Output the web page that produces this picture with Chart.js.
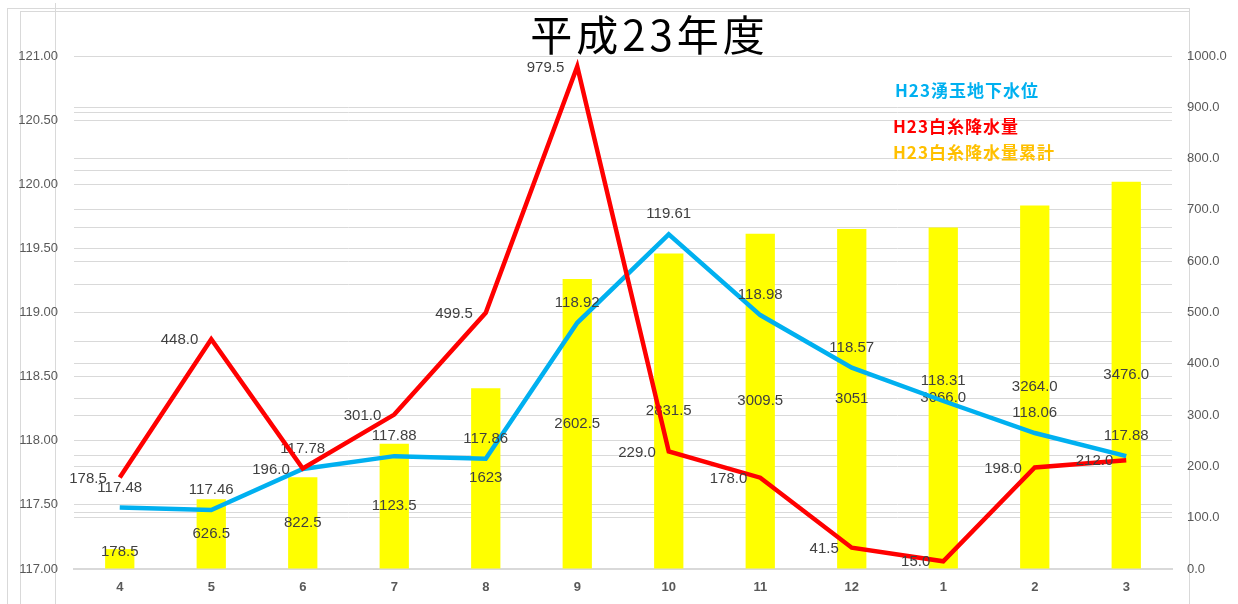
<!DOCTYPE html>
<html>
<head>
<meta charset="utf-8">
<script src="https://cdn.jsdelivr.net/npm/chart.js"></script>
<style>
  body { margin: 0; background: #fff; }
  #wrap { position: relative; width: 1238px; height: 604px; overflow: hidden; }
  .ln { position: absolute; border: 1px solid #D9D9D9; }
  #title {
    position: absolute; left: 527px; top: 6px; width: 245px; text-align: center;
    font-family: "Noto Sans CJK JP", sans-serif; font-size: 42px; line-height: 54px;
    letter-spacing: 4px; color: #000; white-space: nowrap;
  }
  canvas { position: absolute; left: 0; top: 0; }
</style>
</head>
<body>
<div id="wrap">
  <div class="ln" style="left:7px;top:8px;width:1181px;height:620px;"></div>
  <div class="ln" style="left:20px;top:11px;width:1168px;height:620px;border-right:none;"></div>
  <div class="ln" style="left:55px;top:3px;width:0;height:620px;border-left:none;border-top:none;border-bottom:none;"></div>
  <canvas id="myChart" width="1238" height="604"></canvas>
  <div id="title">平成23年度</div>
</div>
<script>
// months (fiscal year H23)
const months = ["4", "5", "6", "7", "8", "9", "10", "11", "12", "1", "2", "3"];
// 湧玉地下水位
const waterLevel = [117.48, 117.46, 117.78, 117.88, 117.86, 118.92, 119.61, 118.98, 118.57, 118.31, 118.06, 117.88];
// 白糸降水量
const rainfall = [178.5, 448.0, 196.0, 301.0, 499.5, 979.5, 229.0, 178.0, 41.5, 15.0, 198.0, 212.0];
// 白糸降水量累計
const rainCum = [178.5, 626.5, 822.5, 1123.5, 1623, 2602.5, 2831.5, 3009.5, 3051, 3066.0, 3264.0, 3476.0];
const rainCumLabels = ["178.5", "626.5", "822.5", "1123.5", "1623", "2602.5", "2831.5", "3009.5", "3051", "3066.0", "3264.0", "3476.0"];

const tickColor = "#595959";
const gridColor = "#D9D9D9";
const labelFont = '15px "Liberation Sans", Arial, sans-serif';

// value labels, drawn right after each dataset
const valueLabels = {
  id: "valueLabels",
  afterDatasetDraw(chart, args) {
    const ctx = chart.ctx;
    const ds = chart.data.datasets[args.index];
    const meta = args.meta;
    ctx.save();
    ctx.font = labelFont;
    ctx.fillStyle = "#404040";
    meta.data.forEach((el, i) => {
      if (ds.type === "bar") {
        const mid = (el.y + el.base) / 2;
        ctx.textAlign = "center";
        ctx.textBaseline = "middle";
        ctx.fillText(rainCumLabels[i], el.x, Math.min(mid, el.base - 17));
      } else if (ds.yAxisID === "yRain") {
        ctx.textAlign = "right";
        ctx.textBaseline = "middle";
        ctx.fillText(ds.data[i].toFixed(1), el.x - 13, el.y + 1);
      } else {
        ctx.textAlign = "center";
        ctx.textBaseline = "middle";
        ctx.fillText(ds.data[i].toFixed(2), el.x, el.y - 20);
      }
    });
    ctx.restore();
  }
};

// legend text inside the plot area
const innerLegend = {
  id: "innerLegend",
  afterDraw(chart) {
    const ctx = chart.ctx;
    const items = [
      { ds: 0, x: 895, y: 91 },
      { ds: 1, x: 893, y: 127 },
      { ds: 2, x: 893, y: 153, color: "#FFC000" }
    ];
    ctx.save();
    ctx.font = 'bold 17px "Noto Sans CJK JP", sans-serif';
    ctx.letterSpacing = "1px";
    ctx.textAlign = "left";
    ctx.textBaseline = "middle";
    items.forEach(it => {
      const ds = chart.data.datasets[it.ds];
      ctx.fillStyle = it.color || ds.borderColor;
      ctx.fillText(ds.label, it.x, it.y);
    });
    ctx.restore();
  }
};

const ctx = document.getElementById("myChart").getContext("2d");
new Chart(ctx, {
  data: {
    labels: months,
    datasets: [
      {
        type: "line",
        label: "H23湧玉地下水位",
        data: waterLevel,
        yAxisID: "yLevel",
        borderColor: "#00B0F0",
        borderWidth: 4.5,
        pointRadius: 0,
        tension: 0,
        order: 2
      },
      {
        type: "line",
        label: "H23白糸降水量",
        data: rainfall,
        yAxisID: "yRain",
        borderColor: "#FF0000",
        borderWidth: 4.5,
        pointRadius: 0,
        tension: 0,
        order: 1
      },
      {
        type: "bar",
        label: "H23白糸降水量累計",
        data: rainCum,
        yAxisID: "yCum",
        backgroundColor: "#FFFF00",
        barPercentage: 0.32,
        categoryPercentage: 1,
        order: 3
      }
    ]
  },
  options: {
    responsive: false,
    animation: false,
    layout: { padding: { top: 56, bottom: 0, left: 0, right: 0 } },
    plugins: {
      legend: { display: false },
      tooltip: { enabled: false },
      title: { display: false }
    },
    scales: {
      x: {
        offset: true,
        grid: { display: false, drawTicks: false },
        border: { display: true, color: gridColor, width: 2 },
        ticks: {
          color: tickColor,
          padding: 11,
          font: { family: '"Liberation Sans", Arial, sans-serif', size: 13, weight: "bold" }
        },
        afterFit(scale) { scale.height = 35; }
      },
      yLevel: {
        position: "left",
        min: 117,
        max: 121,
        ticks: {
          stepSize: 0.5,
          color: tickColor,
          padding: 16,
          font: { family: '"Liberation Sans", Arial, sans-serif', size: 13 },
          callback: v => v.toFixed(2)
        },
        grid: { color: gridColor, drawTicks: false },
        border: { display: false },
        afterFit(scale) { scale.width = 74; }
      },
      yRain: {
        position: "right",
        min: 0,
        max: 1000,
        ticks: {
          stepSize: 100,
          color: tickColor,
          padding: 15,
          font: { family: '"Liberation Sans", Arial, sans-serif', size: 13 },
          callback: v => v.toFixed(1)
        },
        grid: { color: gridColor, drawTicks: false },
        border: { display: false },
        afterFit(scale) { scale.width = 66; }
      },
      yCum: {
        position: "right",
        min: 0,
        max: 4605,
        ticks: { stepSize: 500, display: false },
        grid: { color: gridColor, drawTicks: false },
        border: { display: false },
        afterFit(scale) { scale.width = 0; }
      }
    }
  },
  plugins: [valueLabels, innerLegend]
});
</script>
</body>
</html>
